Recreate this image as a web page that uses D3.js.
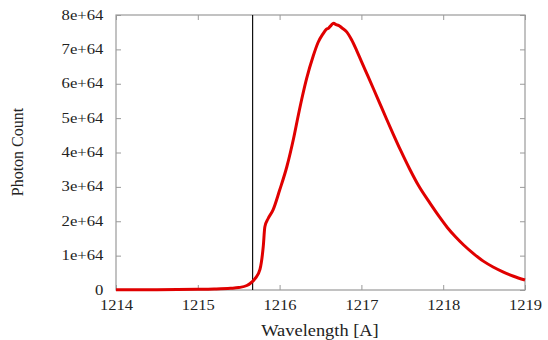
<!DOCTYPE html>
<html><head><meta charset="utf-8">
<script src="https://cdn.jsdelivr.net/npm/d3@7"></script>
<style>
body{margin:0;background:#fff;}
svg{display:block;}
</style></head>
<body><svg id="c" width="548" height="340"></svg>
<script>
const wavelength = [1214.0,1214.5,1215.0,1215.2,1215.4,1215.5,1215.6,1215.64,1215.7,1215.76,1215.8,1215.82,1215.86,1215.92,1216.0,1216.09,1216.17,1216.23,1216.28,1216.33,1216.41,1216.47,1216.53,1216.57,1216.6,1216.63,1216.66,1216.69,1216.72,1216.76,1216.82,1216.88,1216.94,1217.0,1217.08,1217.15,1217.23,1217.31,1217.39,1217.48,1217.59,1217.7,1217.84,1217.95,1218.05,1218.15,1218.25,1218.37,1218.49,1218.61,1218.73,1218.86,1219.0];
const photonCount = [0.01,0.01,0.02,0.03,0.05,0.07,0.13,0.19,0.33,0.6,1.26,1.84,2.08,2.33,2.9,3.6,4.4,5.1,5.65,6.15,6.8,7.2,7.45,7.58,7.62,7.7,7.76,7.72,7.7,7.63,7.51,7.28,6.98,6.65,6.22,5.84,5.4,4.96,4.53,4.06,3.52,3.03,2.52,2.14,1.82,1.55,1.31,1.06,0.84,0.67,0.53,0.4,0.29].map(v=>v*1e64);
const xTicks = [1214,1215,1216,1217,1218,1219];
const yTicks = [0,1e64,2e64,3e64,4e64,5e64,6e64,7e64,8e64];
const yTickLabels = ["0","1e+64","2e+64","3e+64","4e+64","5e+64","6e+64","7e+64","8e+64"];
const markerWavelength = [1215.67];
const xLabel = "Wavelength [A]", yLabel = "Photon Count";

const FONT = "Liberation Serif";
const L=116,R=525,T=15,B=290;
const svg=d3.select("#c");
const x=d3.scaleLinear().domain([1214,1219]).range([L,R]);
const y=d3.scaleLinear().domain([0,8e64]).range([B,T]);
const frame="#9a9a9a";

function styleAxis(g){
  g.attr("font-family",FONT);
  g.select(".domain").remove();
  g.selectAll(".tick line").attr("stroke",frame).attr("stroke-width",1);
}
const gb=svg.append("g").attr("transform",`translate(0,${B})`)
  .call(d3.axisBottom(x).tickValues(xTicks).tickSize(-5).tickFormat(d3.format("d")));
styleAxis(gb);
gb.selectAll(".tick text").attr("font-size",15).attr("font-family",FONT).attr("dy","0.85em")
  .attr("transform","scale(1.1,1)").attr("y",7).attr("fill","#222");
const gt=svg.append("g").attr("transform",`translate(0,${T})`)
  .call(d3.axisTop(x).tickValues(xTicks).tickSize(-5).tickFormat(""));
styleAxis(gt);
const gl=svg.append("g").attr("transform",`translate(${L},0)`)
  .call(d3.axisLeft(y).tickValues(yTicks).tickSize(-5).tickFormat((d,i)=>yTickLabels[i]));
styleAxis(gl);
gl.selectAll(".tick text").attr("font-size",14.5).attr("font-family",FONT).attr("fill","#222")
  .attr("transform","scale(1.15,1)").attr("x",-11).attr("dy","0.28em");
const gr=svg.append("g").attr("transform",`translate(${R},0)`)
  .call(d3.axisRight(y).tickValues(yTicks).tickSize(-5).tickFormat(""));
styleAxis(gr);

svg.append("rect").attr("x",L).attr("y",T).attr("width",R-L).attr("height",B-T)
  .attr("fill","none").attr("stroke",frame).attr("stroke-width",1.2);

svg.selectAll(".mk").data(markerWavelength).join("line")
  .attr("x1",d=>x(d)).attr("x2",d=>x(d)).attr("y1",T).attr("y2",B)
  .attr("stroke","#111").attr("stroke-width",1.2);

const pts=wavelength.map((w,i)=>[w,photonCount[i]]);
svg.append("path").datum(pts)
  .attr("d",d3.line().x(d=>x(d[0])).y(d=>y(d[1])).curve(d3.curveMonotoneX))
  .attr("fill","none").attr("stroke","#e00000").attr("stroke-width",3).attr("stroke-linejoin","round");

svg.append("text").attr("transform",`translate(320,336) scale(1.15,1)`)
  .attr("text-anchor","middle").attr("font-size",16).attr("font-family",FONT).attr("fill","#222").text(xLabel);
svg.append("text").attr("transform",`translate(23,152) rotate(-90)`)
  .attr("text-anchor","middle").attr("font-size",16).attr("font-family",FONT).attr("fill","#222").text(yLabel);
</script></body></html>
